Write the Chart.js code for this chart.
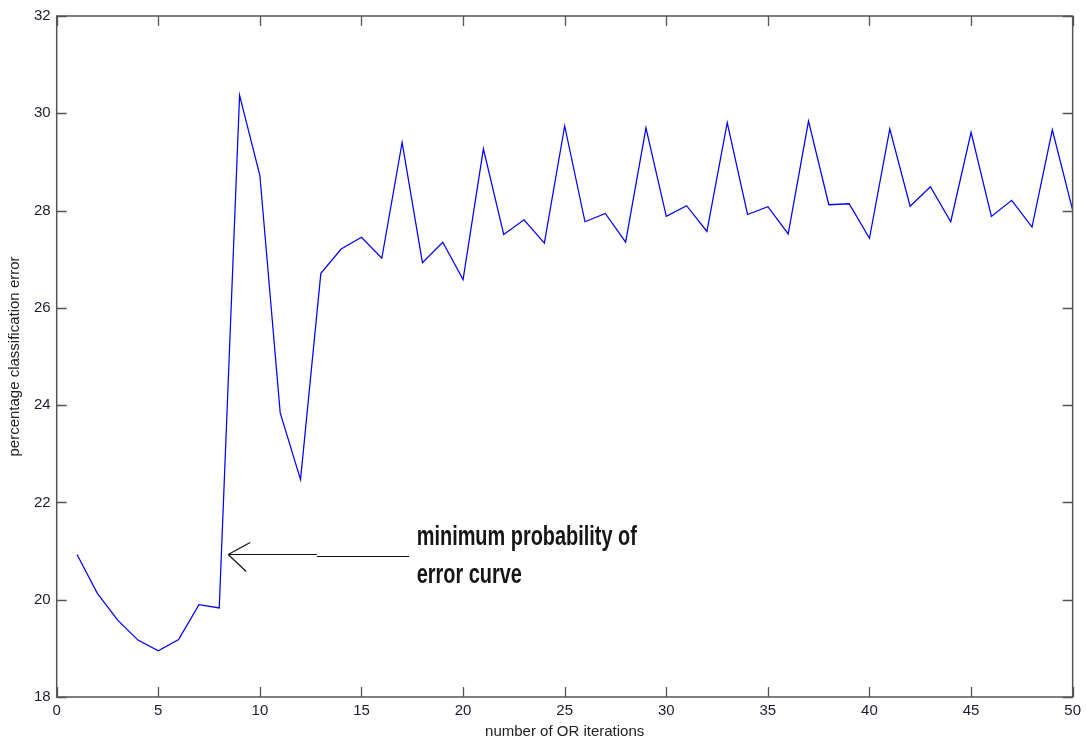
<!DOCTYPE html>
<html>
<head>
<meta charset="utf-8">
<script src="https://cdn.jsdelivr.net/npm/chart.js@4.4.1/dist/chart.umd.min.js"></script>
<style>
  html, body { margin: 0; padding: 0; background: #ffffff; }
  #wrap { width: 1086px; height: 742px; }
</style>
</head>
<body>
<div id="wrap"><canvas id="c" width="1086" height="742"></canvas></div>
<script>
// ---- data ----
const iterations = [1,2,3,4,5,6,7,8,9,10,11,12,13,14,15,16,17,18,19,20,21,22,23,24,25,26,27,28,29,30,31,32,33,34,35,36,37,38,39,40,41,42,43,44,45,46,47,48,49,50];
const errorPct = [20.93,20.13,19.58,19.17,18.95,19.18,19.90,19.83,30.37,28.72,
                  23.84,22.47,26.71,27.21,27.45,27.02,29.40,26.93,27.35,26.58,
                  29.27,27.51,27.81,27.33,29.74,27.77,27.94,27.35,29.70,27.88,
                  28.10,27.57,29.81,27.92,28.08,27.52,29.84,28.12,28.14,27.43,
                  29.68,28.09,28.49,27.77,29.61,27.88,28.21,27.66,29.66,28.01];
const xTitle = 'number of OR iterations';
const yTitle = 'percentage classification error';
const annotationLines = ['minimum probability of', 'error curve'];
const arrowTip = { x: 8.44, y: 20.93 };
const arrowTailX = 17.34;
const textAnchor = { x: 17.72, y: 20.93 };

const frameColor = '#555555';
const tickColor = '#1c1c30';
const fontFamily = '"Liberation Sans", Arial, sans-serif';

const framePlugin = {
  id: 'frameTicks',
  afterDraw(chart) {
    const ctx = chart.ctx, a = chart.chartArea;
    const xs = chart.scales.x, ys = chart.scales.y;
    ctx.save();
    ctx.strokeStyle = frameColor;
    ctx.lineWidth = 1.5;
    ctx.strokeRect(a.left, a.top, a.right - a.left, a.bottom - a.top);
    ctx.beginPath();
    const L = 10;
    xs.ticks.forEach(t => {
      const px = Math.round(xs.getPixelForValue(t.value)) + 0.5;
      ctx.moveTo(px, a.bottom); ctx.lineTo(px, a.bottom - L);
      ctx.moveTo(px, a.top); ctx.lineTo(px, a.top + L);
    });
    ys.ticks.forEach(t => {
      const py = Math.round(ys.getPixelForValue(t.value)) + 0.5;
      ctx.moveTo(a.left, py); ctx.lineTo(a.left + L, py);
      ctx.moveTo(a.right, py); ctx.lineTo(a.right - L, py);
    });
    ctx.lineWidth = 1.3;
    ctx.stroke();
    ctx.restore();

    // annotation arrow + text
    const tx = xs.getPixelForValue(arrowTip.x), ty = ys.getPixelForValue(arrowTip.y);
    const ex = xs.getPixelForValue(arrowTailX);
    const mid = tx + (ex - tx) * 0.49;
    ctx.save();
    ctx.strokeStyle = '#111111';
    ctx.lineWidth = 1.2;
    ctx.beginPath();
    ctx.moveTo(tx, ty); ctx.lineTo(mid, ty);
    ctx.moveTo(mid, ty + 2); ctx.lineTo(ex, ty + 2);
    ctx.moveTo(tx, ty); ctx.lineTo(tx + 22, ty - 12);
    ctx.moveTo(tx, ty); ctx.lineTo(tx + 18, ty + 17);
    ctx.stroke();

    const textX = xs.getPixelForValue(textAnchor.x);
    const baseY = ys.getPixelForValue(textAnchor.y);
    ctx.font = 'bold 27px ' + fontFamily;
    ctx.fillStyle = '#151515';
    ctx.textBaseline = 'alphabetic';
    ctx.textAlign = 'left';
    const w0 = ctx.measureText(annotationLines[0]).width;
    const sx = 220 / w0;
    annotationLines.forEach((line, i) => {
      ctx.save();
      ctx.translate(textX, baseY - 9 + i * 38);
      ctx.scale(sx, 1);
      ctx.fillText(line, 0, 0);
      ctx.restore();
    });
    ctx.restore();
  }
};

new Chart(document.getElementById('c'), {
  type: 'line',
  data: {
    datasets: [{
      data: iterations.map((x, i) => ({ x: x, y: errorPct[i] })),
      borderColor: '#0000ff',
      borderWidth: 1.25,
      pointRadius: 0,
      tension: 0,
      fill: false
    }]
  },
  options: {
    responsive: false,
    animation: false,
    devicePixelRatio: 1,
    layout: { padding: { left: 0, top: 16, right: 11, bottom: 0 } },
    plugins: { legend: { display: false }, tooltip: { enabled: false } },
    scales: {
      x: {
        type: 'linear', min: 0, max: 50,
        afterFit: s => { s.height = 45; },
        border: { display: false },
        grid: { display: false, drawTicks: false },
        ticks: { stepSize: 5, color: tickColor, padding: 5, maxRotation: 0,
                 font: { family: fontFamily, size: 15 } },
        title: { display: true, text: xTitle, color: '#222',
                 padding: { top: 0, bottom: 1 },
                 font: { family: fontFamily, size: 15 } }
      },
      y: {
        type: 'linear', min: 18, max: 32,
        afterFit: s => { s.width = 56.7; },
        border: { display: false },
        grid: { display: false, drawTicks: false },
        ticks: { stepSize: 2, color: tickColor, padding: 6,
                 font: { family: fontFamily, size: 15 } },
        title: { display: true, text: yTitle, color: '#222',
                 padding: { top: 6, bottom: 0 },
                 font: { family: fontFamily, size: 15 } }
      }
    }
  },
  plugins: [framePlugin]
});
</script>
</body>
</html>
